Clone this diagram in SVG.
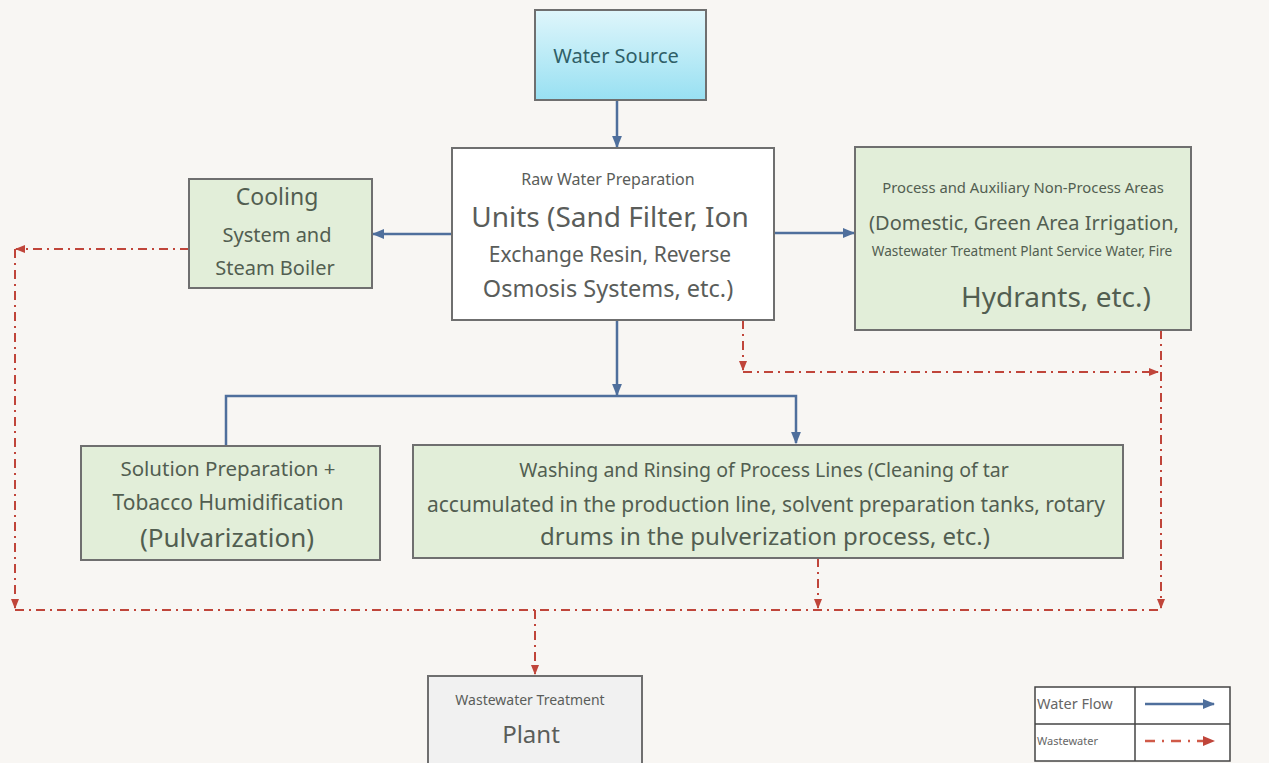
<svg xmlns="http://www.w3.org/2000/svg" width="1269" height="763" viewBox="0 0 1269 763">
<defs>
<linearGradient id="gWater" x1="0" y1="0" x2="0" y2="1">
<stop offset="0" stop-color="#dff6fb"/>
<stop offset="1" stop-color="#98e0f2"/>
</linearGradient>
<marker id="aBlue" viewBox="0 0 10 10" refX="9" refY="5" markerWidth="5" markerHeight="5" orient="auto-start-reverse">
<path d="M0,1 L10,5 L0,9 z" fill="#4f6f9c"/>
</marker>
<marker id="aRed" viewBox="0 0 10 10" refX="9" refY="5" markerWidth="5" markerHeight="5" orient="auto-start-reverse">
<path d="M0,1 L10,5 L0,9 z" fill="#c0453a"/>
</marker>
<style>
.bg{fill:#f8f6f3}
.box{stroke:#6f6f6f;stroke-width:2}
.green{fill:#e2eed9}
.white{fill:#ffffff}
.grey{fill:#f1f1f1}
.t{font-family:"Noto Sans","Open Sans","Liberation Sans",sans-serif;text-anchor:middle;fill:#5a5d5a}
.tg{fill:#525e51}
.blue{fill:none;stroke:#4f6f9c;stroke-width:2.5}
.red{fill:none;stroke:#c0453a;stroke-width:2;stroke-dasharray:9 5 2 5}
.leg{font-family:"Noto Sans","Open Sans","Liberation Sans",sans-serif;fill:#666}
</style>
</defs>
<rect class="bg" x="0" y="0" width="1269" height="763"/>

<g id="connectors">
<line class="blue" x1="617" y1="100" x2="617" y2="147" marker-end="url(#aBlue)"/>
<line class="blue" x1="452" y1="234" x2="373" y2="234" marker-end="url(#aBlue)"/>
<line class="blue" x1="774" y1="233" x2="854" y2="233" marker-end="url(#aBlue)"/>
<line class="blue" x1="617" y1="320" x2="617" y2="395" marker-end="url(#aBlue)"/>
<polyline class="blue" points="226,445 226,396 796,396 796,443" marker-end="url(#aBlue)"/>
<line class="red" x1="743" y1="320" x2="743" y2="370" marker-end="url(#aRed)"/>
<line class="red" x1="743" y1="372" x2="1158" y2="372" marker-end="url(#aRed)"/>
<line class="red" x1="189" y1="249" x2="16" y2="249" marker-end="url(#aRed)"/>
<line class="red" x1="15" y1="249" x2="15" y2="608" marker-end="url(#aRed)"/>
<line class="red" x1="1161" y1="330" x2="1161" y2="608" marker-end="url(#aRed)"/>
<line class="red" x1="818" y1="558" x2="818" y2="608" marker-end="url(#aRed)"/>
<line class="red" x1="15" y1="610" x2="1161" y2="610"/>
<line class="red" x1="535" y1="610" x2="535" y2="674" marker-end="url(#aRed)"/>
</g>

<g id="water-source">
<rect class="box" x="535" y="10" width="171" height="90" fill="url(#gWater)"/>
<text class="t" x="616" y="63" font-size="20" style="fill:#2f5f68">Water Source</text>
</g>

<g id="raw-water">
<rect class="box white" x="452" y="148" width="322" height="172"/>
<text class="t" x="608" y="185" font-size="16">Raw Water Preparation</text>
<text class="t" x="610" y="227" font-size="28">Units (Sand Filter, Ion</text>
<text class="t" x="610" y="262" font-size="21">Exchange Resin, Reverse</text>
<text class="t" x="608" y="297" font-size="23.5">Osmosis Systems, etc.)</text>
</g>

<g id="cooling">
<rect class="box green" x="189" y="179" width="183" height="109"/>
<text class="t tg" x="277" y="205" font-size="23">Cooling</text>
<text class="t tg" x="277" y="242" font-size="20">System and</text>
<text class="t tg" x="275" y="275" font-size="20">Steam Boiler</text>
</g>

<g id="process-areas">
<rect class="box green" x="855" y="147" width="336" height="183"/>
<text class="t tg" x="1023" y="193" font-size="14.8">Process and Auxiliary Non-Process Areas</text>
<text class="t tg" x="1024" y="230" font-size="20">(Domestic, Green Area Irrigation,</text>
<text class="t tg" x="1022" y="256" font-size="13.6">Wastewater Treatment Plant Service Water, Fire</text>
<text class="t tg" x="1056" y="307" font-size="28">Hydrants, etc.)</text>
</g>

<g id="solution-prep">
<rect class="box green" x="81" y="446" width="299" height="114"/>
<text class="t tg" x="228" y="476" font-size="20.5">Solution Preparation +</text>
<text class="t tg" x="228" y="510" font-size="21">Tobacco Humidification</text>
<text class="t tg" x="227" y="547" font-size="26">(Pulvarization)</text>
</g>

<g id="washing">
<rect class="box green" x="413" y="445" width="710" height="113"/>
<text class="t tg" x="764" y="477" font-size="19.5">Washing and Rinsing of Process Lines (Cleaning of tar</text>
<text class="t tg" x="766" y="512" font-size="21">accumulated in the production line, solvent preparation tanks, rotary</text>
<text class="t tg" x="765" y="545" font-size="24">drums in the pulverization process, etc.)</text>
</g>

<g id="wwtp">
<rect class="box grey" x="428" y="676" width="214" height="95"/>
<text class="t" x="530" y="705" font-size="14">Wastewater Treatment</text>
<text class="t" x="531" y="743" font-size="24">Plant</text>
</g>

<g id="legend">
<rect x="1035" y="687" width="195" height="74" fill="#ffffff" stroke="#444" stroke-width="1.5"/>
<line x1="1135" y1="687" x2="1135" y2="761" stroke="#444" stroke-width="1.5"/>
<line x1="1035" y1="724" x2="1230" y2="724" stroke="#444" stroke-width="1.5"/>
<text class="leg" x="1037" y="709" font-size="14.5">Water Flow</text>
<text class="leg" x="1037" y="745" font-size="11">Wastewater</text>
<line class="blue" x1="1145" y1="704" x2="1214" y2="704" marker-end="url(#aBlue)"/>
<line x1="1145" y1="741" x2="1214" y2="741" stroke="#d05a48" stroke-width="2.5" stroke-dasharray="10 7 2 7" marker-end="url(#aRed)"/>
</g>
</svg>
